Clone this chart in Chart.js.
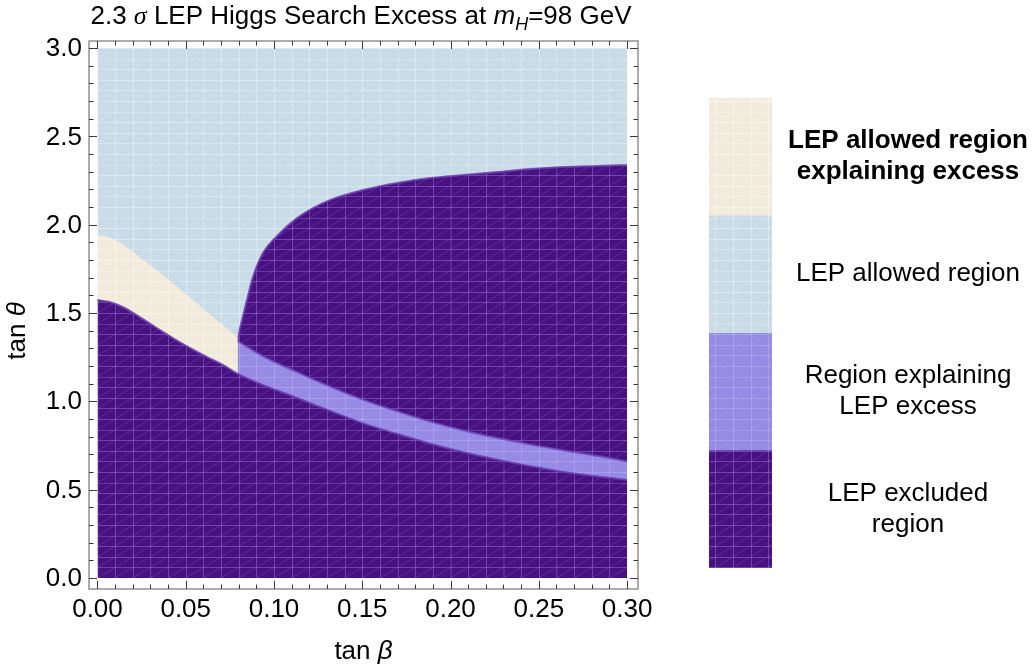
<!DOCTYPE html>
<html>
<head>
<meta charset="utf-8">
<script src="https://cdn.jsdelivr.net/npm/chart.js@4.4.1/dist/chart.umd.min.js"></script>
<style>
  html, body { margin: 0; padding: 0; background: #ffffff; }
  canvas { display: block; }
</style>
</head>
<body>
<canvas id="chart" width="1034" height="671"></canvas>
<script>
// ---- Region boundaries in the (tan beta, tan theta) plane ----
// Upper edge of the allowed region that explains the excess (left of tan beta ~ 0.08)
const allowedExcessTopX = [0, 0.0060, 0.0125, 0.0239, 0.0335, 0.0426, 0.0523, 0.0619, 0.0710, 0.0795];
const allowedExcessTopY = [1.94, 1.93, 1.90, 1.817, 1.743, 1.669, 1.590, 1.505, 1.432, 1.358];

// Upper edge of the lower excluded region (runs across the whole tan beta range)
const excludedLowerX = [0, 0.0068, 0.0142, 0.0239, 0.0335, 0.0426, 0.0523, 0.0619, 0.0710, 0.0795,
                        0.0938, 0.1131, 0.1318, 0.1506, 0.1699, 0.1886, 0.2074, 0.2267, 0.2455, 0.2642, 0.2835, 0.30];
const excludedLowerY = [1.573, 1.562, 1.534, 1.477, 1.415, 1.358, 1.302, 1.251, 1.206, 1.155,
                        1.092, 1.019, 0.945, 0.875, 0.815, 0.760, 0.712, 0.670, 0.632, 0.600, 0.574, 0.555];

// Upper edge of the band explaining the excess but excluded by LEP
const excessBandTopX = [0.0795, 0.0938, 0.1131, 0.1318, 0.1506, 0.1699, 0.1886, 0.2074, 0.2267, 0.2455, 0.2642, 0.2835, 0.30];
const excessBandTopY = [1.340, 1.255, 1.165, 1.083, 1.008, 0.943, 0.885, 0.835, 0.792, 0.755, 0.722, 0.690, 0.660];

// Upper edge of the upper excluded region (starts at tan beta ~ 0.08)
const excludedUpperX = [0.0795, 0.0805, 0.0824, 0.0847, 0.0881, 0.0938, 0.1034, 0.1131, 0.1222, 0.1318,
                        0.1506, 0.1699, 0.1886, 0.2074, 0.2267, 0.2455, 0.2642, 0.2835, 0.30];
const excludedUpperY = [1.340, 1.400, 1.480, 1.573, 1.703, 1.839, 1.952, 2.037, 2.094, 2.139,
                        2.196, 2.236, 2.264, 2.281, 2.298, 2.315, 2.326, 2.332, 2.337];

// Full plot domain
const domainX = [0, 0.30];
const domainTop = [3, 3];

// Axes
const xTicks = [0, 0.05, 0.10, 0.15, 0.20, 0.25, 0.30];
const xTickLabels = ['0.00', '0.05', '0.10', '0.15', '0.20', '0.25', '0.30'];
const yTicks = [0, 0.5, 1.0, 1.5, 2.0, 2.5, 3.0];
const yTickLabels = ['0.0', '0.5', '1.0', '1.5', '2.0', '2.5', '3.0'];

// Legend entries, top to bottom
const legendLabels = [
  ['LEP allowed region', 'explaining excess'],
  ['LEP allowed region'],
  ['Region explaining', 'LEP excess'],
  ['LEP excluded', 'region']
];
const legendBold = [true, false, false, false];

// ---- Styling ----
const FONT = '"Liberation Sans", Arial, Helvetica, sans-serif';
const palette = {
  allowedExcess: { base: '#f2eadb', line: 'rgba(255,255,255,0.45)' },
  allowed:       { base: '#c8dbe7', line: 'rgba(236,243,248,0.55)' },
  excess:        { base: '#978ae4', line: 'rgba(190,180,245,0.45)' },
  excluded:      { base: '#47117f', line: 'rgba(150,110,215,0.55)' }
};

const ctxMain = document.getElementById('chart').getContext('2d');

// Triangulated mesh texture used by the region fills
const TW = 72, TH = 44;
function meshPattern(style) {
  const c = document.createElement('canvas');
  c.width = TW; c.height = TH;
  const g = c.getContext('2d');
  g.fillStyle = style.base;
  g.fillRect(0, 0, TW, TH);
  g.fillStyle = style.line;
  g.fillRect(0, 0, 4, TH);          // vertical mesh line
  g.fillRect(0, 0, TW, 4);          // horizontal mesh line
  g.strokeStyle = style.line;
  g.globalAlpha = 0.6;
  g.lineWidth = 3;
  g.beginPath();
  g.moveTo(0, TH); g.lineTo(TW, 0);
  g.moveTo(-TW / 2, TH / 2); g.lineTo(TW / 2, -TH / 2);
  g.moveTo(TW / 2, TH * 1.5); g.lineTo(TW * 1.5, TH / 2);
  g.stroke();
  return ctxMain.createPattern(c, 'repeat');
}
const patterns = {};
for (const k of Object.keys(palette)) patterns[k] = meshPattern(palette[k]);

const toPoints = (xs, ys) => xs.map((x, i) => ({ x: x, y: ys[i] }));

// Keep the mesh texture anchored to the data grid
const meshAlign = {
  id: 'meshAlign',
  beforeDatasetsDraw(chart) {
    const sx = chart.scales.x, sy = chart.scales.y;
    const x0 = sx.getPixelForValue(0), y0 = sy.getPixelForValue(0);
    const cw = sx.getPixelForValue(0.01) - x0;
    const ch = y0 - sy.getPixelForValue(0.06);
    const m = new DOMMatrix([cw / TW, 0, 0, ch / TH, x0, y0]);
    for (const k of Object.keys(patterns)) patterns[k].setTransform(m);
  }
};

// Frame, inward tick marks, labels, title and region key
const decorations = {
  id: 'decorations',
  afterDraw(chart) {
    const ctx = chart.ctx;
    const a = chart.chartArea;
    const sx = chart.scales.x, sy = chart.scales.y;
    ctx.save();

    // frame
    ctx.strokeStyle = '#8a8a8a';
    ctx.lineWidth = 1.4;
    ctx.strokeRect(a.left, a.top, a.right - a.left, a.bottom - a.top);

    // ticks
    ctx.strokeStyle = '#3a3a3a';
    ctx.lineWidth = 1;
    ctx.beginPath();
    for (let i = 0; i <= 30; i++) {
      const v = i / 100;
      const px = Math.round(sx.getPixelForValue(v)) + 0.5;
      const len = (i % 5 === 0) ? 8 : 4.5;
      ctx.moveTo(px, a.bottom); ctx.lineTo(px, a.bottom - len);
      ctx.moveTo(px, a.top); ctx.lineTo(px, a.top + len);
    }
    for (let i = 0; i <= 30; i++) {
      const v = i / 10;
      const py = Math.round(sy.getPixelForValue(v)) + 0.5;
      const len = (i % 5 === 0) ? 8 : 4.5;
      ctx.moveTo(a.left, py); ctx.lineTo(a.left + len, py);
      ctx.moveTo(a.right, py); ctx.lineTo(a.right - len, py);
    }
    ctx.stroke();

    // tick labels
    ctx.fillStyle = '#000';
    ctx.font = '26px ' + FONT;
    ctx.textAlign = 'center';
    ctx.textBaseline = 'alphabetic';
    xTicks.forEach((v, i) => ctx.fillText(xTickLabels[i], sx.getPixelForValue(v), a.bottom + 28));
    ctx.textAlign = 'right';
    ctx.textBaseline = 'middle';
    yTicks.forEach((v, i) => ctx.fillText(yTickLabels[i], a.left - 7, sy.getPixelForValue(v) + 1));

    // mixed upright / italic text runs
    function mixed(parts, x, y, align) {
      let w = 0;
      parts.forEach(p => { ctx.font = p.font; w += ctx.measureText(p.t).width; });
      let cx = align === 'center' ? x - w / 2 : x;
      parts.forEach(p => {
        ctx.font = p.font;
        ctx.textAlign = 'left';
        ctx.fillText(p.t, cx, y + (p.dy || 0));
        cx += ctx.measureText(p.t).width;
      });
    }
    const reg = '26px ' + FONT;
    const ital = 'italic 26px ' + FONT;
    const midX = (a.left + a.right) / 2;
    const midY = (a.top + a.bottom) / 2;
    ctx.textBaseline = 'alphabetic';

    // axis titles
    mixed([{ t: 'tan ', font: reg }, { t: 'β', font: ital }], midX, 659, 'center');
    ctx.save();
    ctx.translate(25, midY + 16);
    ctx.rotate(-Math.PI / 2);
    mixed([{ t: 'tan ', font: reg }, { t: 'θ', font: ital }], 0, 0, 'center');
    ctx.restore();

    // plot title
    mixed([
      { t: '2.3 ', font: reg },
      { t: 'σ', font: 'italic 26px "Liberation Serif", serif' },
      { t: ' LEP Higgs Search Excess at ', font: reg },
      { t: 'm', font: ital },
      { t: 'H', font: 'italic 18px ' + FONT, dy: 6 },
      { t: '=98 GeV', font: reg }
    ], 361, 24, 'center');

    // region key
    const keyLeft = 709, keyRight = 772, keyTop = 98, keyBottom = 568;
    const seg = (keyBottom - keyTop) / 4;
    const keyStyles = ['allowedExcess', 'allowed', 'excess', 'excluded'];
    keyStyles.forEach((k, i) => {
      ctx.fillStyle = patterns[k];
      ctx.fillRect(keyLeft, keyTop + i * seg, keyRight - keyLeft, seg + (i < 3 ? 0.5 : 0));
    });
    ctx.fillStyle = '#000';
    ctx.textAlign = 'center';
    ctx.textBaseline = 'middle';
    legendLabels.forEach((lines, i) => {
      ctx.font = (legendBold[i] ? 'bold ' : '') + '26px ' + FONT;
      const cy = keyTop + (i + 0.5) * seg;
      const lh = 31;
      lines.forEach((txt, j) => {
        ctx.fillText(txt, 908, cy + (j - (lines.length - 1) / 2) * lh);
      });
    });

    ctx.restore();
  }
};

new Chart(ctxMain, {
  type: 'line',
  data: {
    datasets: [
      { label: 'LEP allowed region', data: toPoints(domainX, domainTop),
        backgroundColor: patterns.allowed, fill: 'origin', order: 5 },
      { label: 'LEP excluded region (upper)', data: toPoints(excludedUpperX, excludedUpperY),
        backgroundColor: patterns.excluded, fill: 'origin', order: 4,
        borderColor: 'rgba(105,60,175,0.85)', borderWidth: 2 },
      { label: 'LEP allowed region explaining excess', data: toPoints(allowedExcessTopX, allowedExcessTopY),
        backgroundColor: patterns.allowedExcess, fill: 'origin', order: 3 },
      { label: 'Region explaining LEP excess', data: toPoints(excessBandTopX, excessBandTopY),
        backgroundColor: patterns.excess, fill: 'origin', order: 2,
        borderColor: 'rgba(110,75,190,0.8)', borderWidth: 2 },
      { label: 'LEP excluded region (lower)', data: toPoints(excludedLowerX, excludedLowerY),
        backgroundColor: patterns.excluded, fill: 'origin', order: 1,
        borderColor: 'rgba(105,60,175,0.85)', borderWidth: 2 }
    ]
  },
  options: {
    responsive: false,
    animation: false,
    devicePixelRatio: 1,
    events: [],
    layout: { padding: { left: 89, right: 396, top: 41, bottom: 82 } },
    elements: {
      point: { radius: 0, hoverRadius: 0 },
      line: { borderWidth: 0, borderColor: 'rgba(0,0,0,0)', cubicInterpolationMode: 'monotone' }
    },
    scales: {
      x: { type: 'linear', display: false, min: -0.0048, max: 0.3062 },
      y: { type: 'linear', display: false, min: -0.0623, max: 3.0396 }
    },
    plugins: {
      legend: { display: false },
      tooltip: { enabled: false },
      title: { display: false }
    }
  },
  plugins: [meshAlign, decorations]
});
</script>
</body>
</html>
